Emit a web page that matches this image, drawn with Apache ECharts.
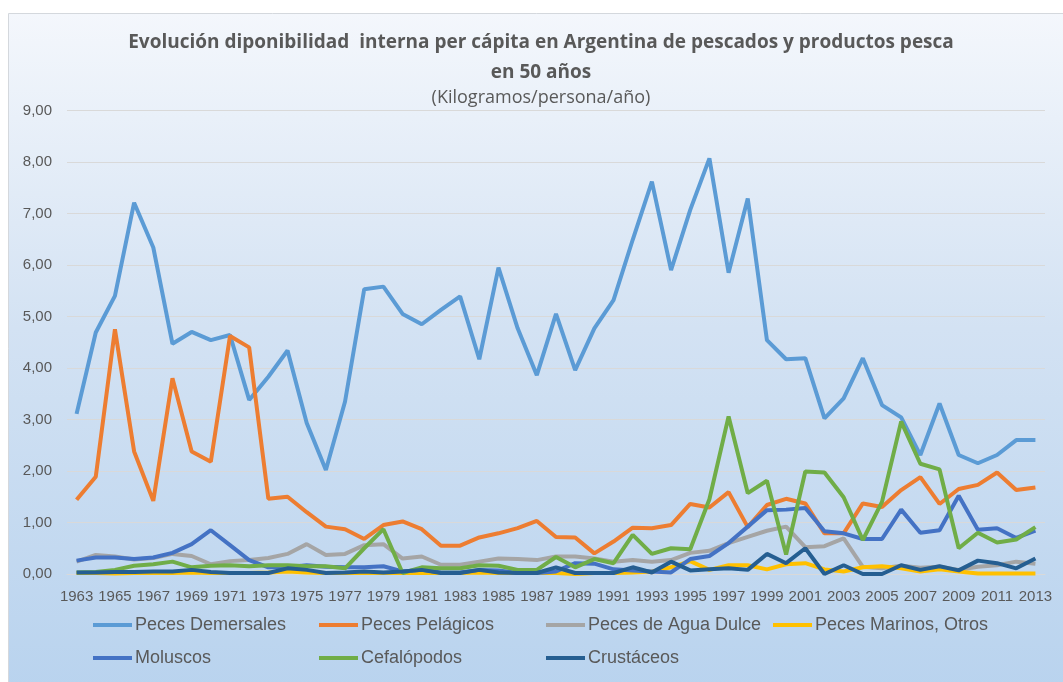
<!DOCTYPE html>
<html>
<head>
<meta charset="utf-8">
<script src="https://cdn.jsdelivr.net/npm/echarts@6/dist/echarts.min.js"></script>
<style>
html, body { margin: 0; padding: 0; background: #fff; }
#chart { width: 1063px; height: 682px; }
</style>
</head>
<body>
<div id="chart"></div>
<script>
// años 1963 - 2013
var years = [];
for (var y = 1963; y <= 2013; y++) { years.push(String(y)); }

var yTicks = ['0,00', '1,00', '2,00', '3,00', '4,00', '5,00', '6,00', '7,00', '8,00', '9,00'];

var demersales = [3.11, 4.69, 5.40, 7.21, 6.34, 4.47, 4.70, 4.54, 4.64, 3.38,
	3.83, 4.34, 2.93, 2.02, 3.35, 5.53, 5.58, 5.05, 4.85, 5.13,
	5.39, 4.17, 5.95, 4.77, 3.86, 5.05, 3.96, 4.77, 5.32, 6.49,
	7.62, 5.90, 7.07, 8.07, 5.85, 7.29, 4.54, 4.17, 4.19, 3.02,
	3.41, 4.19, 3.28, 3.04, 2.31, 3.31, 2.31, 2.15, 2.31, 2.60, 2.60];
var pelagicos = [1.44, 1.89, 4.75, 2.38, 1.42, 3.80, 2.38, 2.18, 4.62, 4.40,
	1.46, 1.50, 1.20, 0.92, 0.87, 0.68, 0.95, 1.02, 0.87, 0.55,
	0.55, 0.71, 0.79, 0.89, 1.03, 0.72, 0.71, 0.40, 0.63, 0.90,
	0.89, 0.95, 1.36, 1.29, 1.59, 0.91, 1.34, 1.46, 1.37, 0.79,
	0.79, 1.37, 1.30, 1.63, 1.88, 1.36, 1.65, 1.73, 1.97, 1.63, 1.68];
var aguaDulce = [0.24, 0.37, 0.34, 0.28, 0.31, 0.39, 0.35, 0.19, 0.25, 0.27,
	0.31, 0.39, 0.58, 0.37, 0.39, 0.56, 0.58, 0.30, 0.34, 0.18,
	0.18, 0.24, 0.30, 0.29, 0.27, 0.34, 0.34, 0.30, 0.24, 0.27,
	0.24, 0.27, 0.41, 0.45, 0.60, 0.72, 0.84, 0.92, 0.52, 0.54,
	0.69, 0.14, 0.11, 0.16, 0.12, 0.14, 0.08, 0.14, 0.17, 0.24, 0.20];
var marinos = [0.02, 0.02, 0.01, 0.02, 0.02, 0.02, 0.03, 0.02, 0.02, 0.02,
	0.03, 0.05, 0.03, 0.02, 0.02, 0.02, 0.02, 0.02, 0.02, 0.02,
	0.02, 0.03, 0.02, 0.02, 0.02, 0.02, 0.00, 0.02, 0.02, 0.03,
	0.05, 0.13, 0.25, 0.08, 0.17, 0.17, 0.09, 0.19, 0.21, 0.09,
	0.05, 0.13, 0.15, 0.11, 0.05, 0.09, 0.05, 0.01, 0.01, 0.01, 0.01];
var moluscos = [0.26, 0.32, 0.32, 0.29, 0.32, 0.41, 0.58, 0.85, 0.56, 0.27,
	0.13, 0.13, 0.17, 0.14, 0.13, 0.13, 0.15, 0.05, 0.08, 0.03,
	0.03, 0.08, 0.07, 0.02, 0.02, 0.05, 0.21, 0.20, 0.09, 0.07,
	0.05, 0.03, 0.29, 0.35, 0.60, 0.92, 1.24, 1.25, 1.28, 0.83,
	0.79, 0.68, 0.68, 1.25, 0.80, 0.85, 1.52, 0.86, 0.89, 0.70, 0.84];
var cefalopodos = [0.03, 0.04, 0.08, 0.16, 0.19, 0.24, 0.13, 0.16, 0.17, 0.15,
	0.17, 0.17, 0.15, 0.15, 0.11, 0.50, 0.87, 0.02, 0.13, 0.11,
	0.11, 0.17, 0.16, 0.08, 0.08, 0.33, 0.13, 0.29, 0.21, 0.76,
	0.39, 0.50, 0.48, 1.45, 3.06, 1.57, 1.81, 0.38, 1.99, 1.97,
	1.49, 0.66, 1.40, 2.96, 2.14, 2.03, 0.50, 0.80, 0.61, 0.67, 0.91];
var crustaceos = [0.03, 0.03, 0.04, 0.04, 0.05, 0.05, 0.08, 0.04, 0.02, 0.02,
	0.02, 0.11, 0.08, 0.02, 0.03, 0.05, 0.03, 0.05, 0.08, 0.02,
	0.02, 0.08, 0.03, 0.02, 0.02, 0.13, 0.02, 0.02, 0.02, 0.13,
	0.03, 0.24, 0.07, 0.09, 0.11, 0.08, 0.39, 0.21, 0.50, 0.00,
	0.17, 0.00, 0.00, 0.17, 0.08, 0.15, 0.07, 0.26, 0.21, 0.11, 0.30];

var nombres = ['Peces Demersales', 'Peces Pelágicos', 'Peces de Agua Dulce', 'Peces Marinos, Otros',
	'Moluscos', 'Cefalópodos', 'Crustáceos'];
var colores = ['#5B9BD5', '#ED7D31', '#A5A5A5', '#FFC000', '#4472C4', '#70AD47', '#255E91'];
var datos = [demersales, pelagicos, aguaDulce, marinos, moluscos, cefalopodos, crustaceos];

var fuente = '"Liberation Sans", Arial, sans-serif';

// una leyenda vertical por columna, asi quedan alineadas como en el original
function leyenda(left, items) {
	return {
		left: left,
		top: 616,
		padding: 0,
		orient: 'vertical',
		itemGap: 15,
		itemWidth: 39,
		itemHeight: 22,
		icon: 'path://M0,9 L39,9 L39,13 L0,13 Z',
		data: items,
		textStyle: { color: '#595959', fontSize: 18, fontFamily: fuente, padding: [0, 0, 0, -2] }
	};
}

var chart = echarts.init(document.getElementById('chart'));

var series = nombres.map(function (n, i) {
	return {
		name: n,
		type: 'line',
		data: datos[i],
		symbol: 'none',
		lineStyle: { width: 4, color: colores[i] },
		itemStyle: { color: colores[i] }
	};
});

var option = {
	animation: false,
	color: colores,
	graphic: [{
		type: 'rect',
		z: -10,
		shape: { x: 8.5, y: 13.5, width: 1080, height: 700 },
		style: {
			fill: new echarts.graphic.LinearGradient(0, 0, 0, 1, [
				{ offset: 0, color: '#f4f7fc' },
				{ offset: 0.45, color: '#d3e2f3' },
				{ offset: 1, color: '#b7d2ee' }
			]),
			stroke: '#d4d8dd',
			lineWidth: 1
		}
	}],
	title: [{
		text: 'Evolución diponibilidad  interna per cápita en Argentina de pescados y productos pesca\nen 50 años',
		left: 541,
		top: 28,
		padding: 0,
		textAlign: 'center',
		textStyle: { color: '#595959', fontSize: 19, fontWeight: 'bold', fontFamily: '"Open Sans", "Noto Sans", sans-serif', lineHeight: 30 }
	}, {
		text: '(Kilogramos/persona/año)',
		left: 541,
		top: 87,
		padding: 0,
		textAlign: 'center',
		textStyle: { color: '#595959', fontSize: 18, fontWeight: 'normal', fontFamily: '"Open Sans", "Noto Sans", sans-serif', lineHeight: 22 }
	}],
	legend: [
		leyenda(93, [nombres[0], nombres[4]]),
		leyenda(319, [nombres[1], nombres[5]]),
		leyenda(546, [nombres[2], nombres[6]]),
		leyenda(773, [nombres[3]])
	],
	grid: { left: 67, right: 18, top: 110.5, bottom: 108, containLabel: false },
	xAxis: {
		type: 'category',
		data: years,
		boundaryGap: true,
		axisLine: { show: true, lineStyle: { color: '#d9d9d9', width: 1 } },
		axisTick: { show: false },
		axisLabel: { interval: 1, color: '#595959', fontSize: 15, fontFamily: fuente, margin: 15 },
		splitLine: { show: false }
	},
	yAxis: {
		type: 'value',
		min: 0,
		max: 9,
		interval: 1,
		axisLine: { show: false },
		axisTick: { show: false },
		axisLabel: {
			color: '#595959', fontSize: 15, fontFamily: fuente, margin: 15,
			formatter: function (v) { return yTicks[Math.round(v)]; }
		},
		splitLine: { lineStyle: { color: '#d9d9d9', width: 1 } }
	},
	series: series
};

chart.setOption(option);
</script>
</body>
</html>
